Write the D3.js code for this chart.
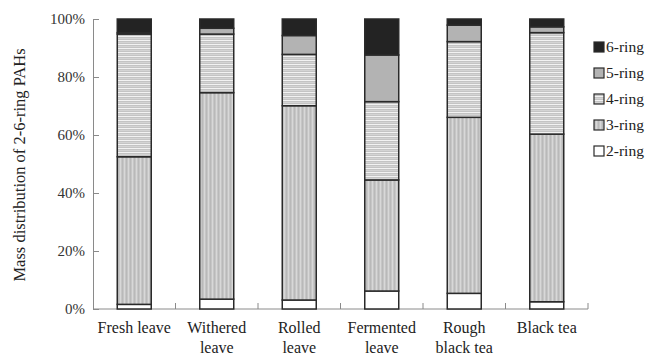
<!DOCTYPE html>
<html><head><meta charset="utf-8">
<script src="https://cdn.jsdelivr.net/npm/d3@7/dist/d3.min.js"></script>
<style>body{margin:0;background:#fff}svg{display:block}text{font-family:"Liberation Serif","Times New Roman",serif}</style>
</head><body><svg id="c" width="649" height="360"></svg>
<script>
const categories = ["Fresh leave","Withered leave","Rolled leave","Fermented leave","Rough black tea","Black tea"];
const labelLines = [["Fresh leave"],["Withered","leave"],["Rolled","leave"],["Fermented","leave"],["Rough","black tea"],["Black tea"]];
const seriesNames = ["2-ring","3-ring","4-ring","5-ring","6-ring"];
const ring2 = [1.6, 3.4, 3.1, 6.2, 5.4, 2.5];
const ring3 = [50.9, 71.2, 67.0, 38.3, 60.7, 57.8];
const ring4 = [42.3, 20.2, 17.7, 27.0, 26.1, 35.0];
const ring5 = [0.5, 2.0, 6.5, 16.1, 5.7, 2.0];
const ring6 = [4.7, 3.2, 5.7, 12.4, 2.1, 2.7];
const yTicks = [0, 20, 40, 60, 80, 100];
const yTitle = "Mass distribution of 2-6-ring PAHs";

const svg = d3.select("#c");
const defs = svg.append("defs");
const p3 = defs.append("pattern").attr("id","p3").attr("patternUnits","userSpaceOnUse").attr("width",4).attr("height",4);
p3.append("rect").attr("width",4).attr("height",4).attr("fill","#c6c6c6");
p3.append("rect").attr("x",0).attr("width",1).attr("height",4).attr("fill","#d8d8d8");
p3.append("rect").attr("x",2).attr("width",1).attr("height",4).attr("fill","#b9b9b9");
const p4 = defs.append("pattern").attr("id","p4").attr("patternUnits","userSpaceOnUse").attr("width",4).attr("height",4);
p4.append("rect").attr("width",4).attr("height",4).attr("fill","#c4c4c4");
p4.append("rect").attr("y",0).attr("width",4).attr("height",1).attr("fill","#f2f2f2");
p4.append("rect").attr("y",2).attr("width",4).attr("height",1).attr("fill","#d4d4d4");
const fills = ["#ffffff","url(#p3)","url(#p4)","#b3b3b3","#232323"];

const x = d3.scaleBand().domain(categories).range([93, 588]).paddingInner(0.588).paddingOuter(0.294);
const y = d3.scaleLinear().domain([0, 100]).range([309, 19]);

const table = categories.map((c, i) => ({cat: c, "2-ring": ring2[i], "3-ring": ring3[i], "4-ring": ring4[i], "5-ring": ring5[i], "6-ring": ring6[i]}));
const stacked = d3.stack().keys(seriesNames)(table);

const axisColor = "#8a8a8a";
const yAxis = svg.append("g").attr("transform","translate(93,0)")
  .call(d3.axisLeft(y).tickValues(yTicks).tickFormat(d => d + "%").tickSizeInner(-6).tickSizeOuter(0).tickPadding(8));
yAxis.select(".domain").attr("stroke", axisColor);
yAxis.selectAll(".tick line").attr("stroke", axisColor);
yAxis.selectAll(".tick text").attr("font-size", 15).attr("fill","#333").attr("font-family","Liberation Serif");

const xAxisG = svg.append("g");
xAxisG.append("line").attr("x1",93).attr("x2",588).attr("y1",y(0)).attr("y2",y(0)).attr("stroke",axisColor);
const step = x.step();
d3.range(1, categories.length + 1).forEach(i => {
  const xx = x.range()[0] + i * step;
  xAxisG.append("line").attr("x1",xx).attr("x2",xx).attr("y1",y(0)).attr("y2",y(0)-6).attr("stroke",axisColor);
});

const layer = svg.append("g").selectAll("g").data(stacked).join("g").attr("fill",(d,i)=>fills[i]);
layer.selectAll("rect").data(d => d).join("rect")
  .attr("x", d => x(d.data.cat))
  .attr("width", x.bandwidth())
  .attr("y", d => y(d[1]))
  .attr("height", d => y(d[0]) - y(d[1]))
  .attr("stroke","#2a2a2a").attr("stroke-width",1.5);

const xl = svg.append("g");
categories.forEach((c, i) => {
  const t = xl.append("text").attr("x", x(c) + x.bandwidth()/2).attr("y", 333)
    .attr("text-anchor","middle").attr("font-size",16).attr("fill","#222");
  labelLines[i].forEach((ln, j) => t.append("tspan").attr("x", x(c) + x.bandwidth()/2).attr("dy", j === 0 ? 0 : 20).text(ln));
});

svg.append("text").attr("transform","translate(25,165) rotate(-90)").attr("text-anchor","middle")
  .attr("font-size",16.5).attr("fill","#222").text(yTitle);

const legendOrder = seriesNames.slice().reverse();
const lg = svg.append("g");
legendOrder.forEach((s, k) => {
  const idx = seriesNames.indexOf(s);
  const yy = 47 + k * 26;
  lg.append("rect").attr("x",594).attr("y",yy-5).attr("width",10).attr("height",10)
    .attr("fill",fills[idx]).attr("stroke","#2a2a2a").attr("stroke-width",1.2);
  lg.append("text").attr("x",606).attr("y",yy+5).attr("font-size",15.5).attr("fill","#222").text(s);
});
</script></body></html>
